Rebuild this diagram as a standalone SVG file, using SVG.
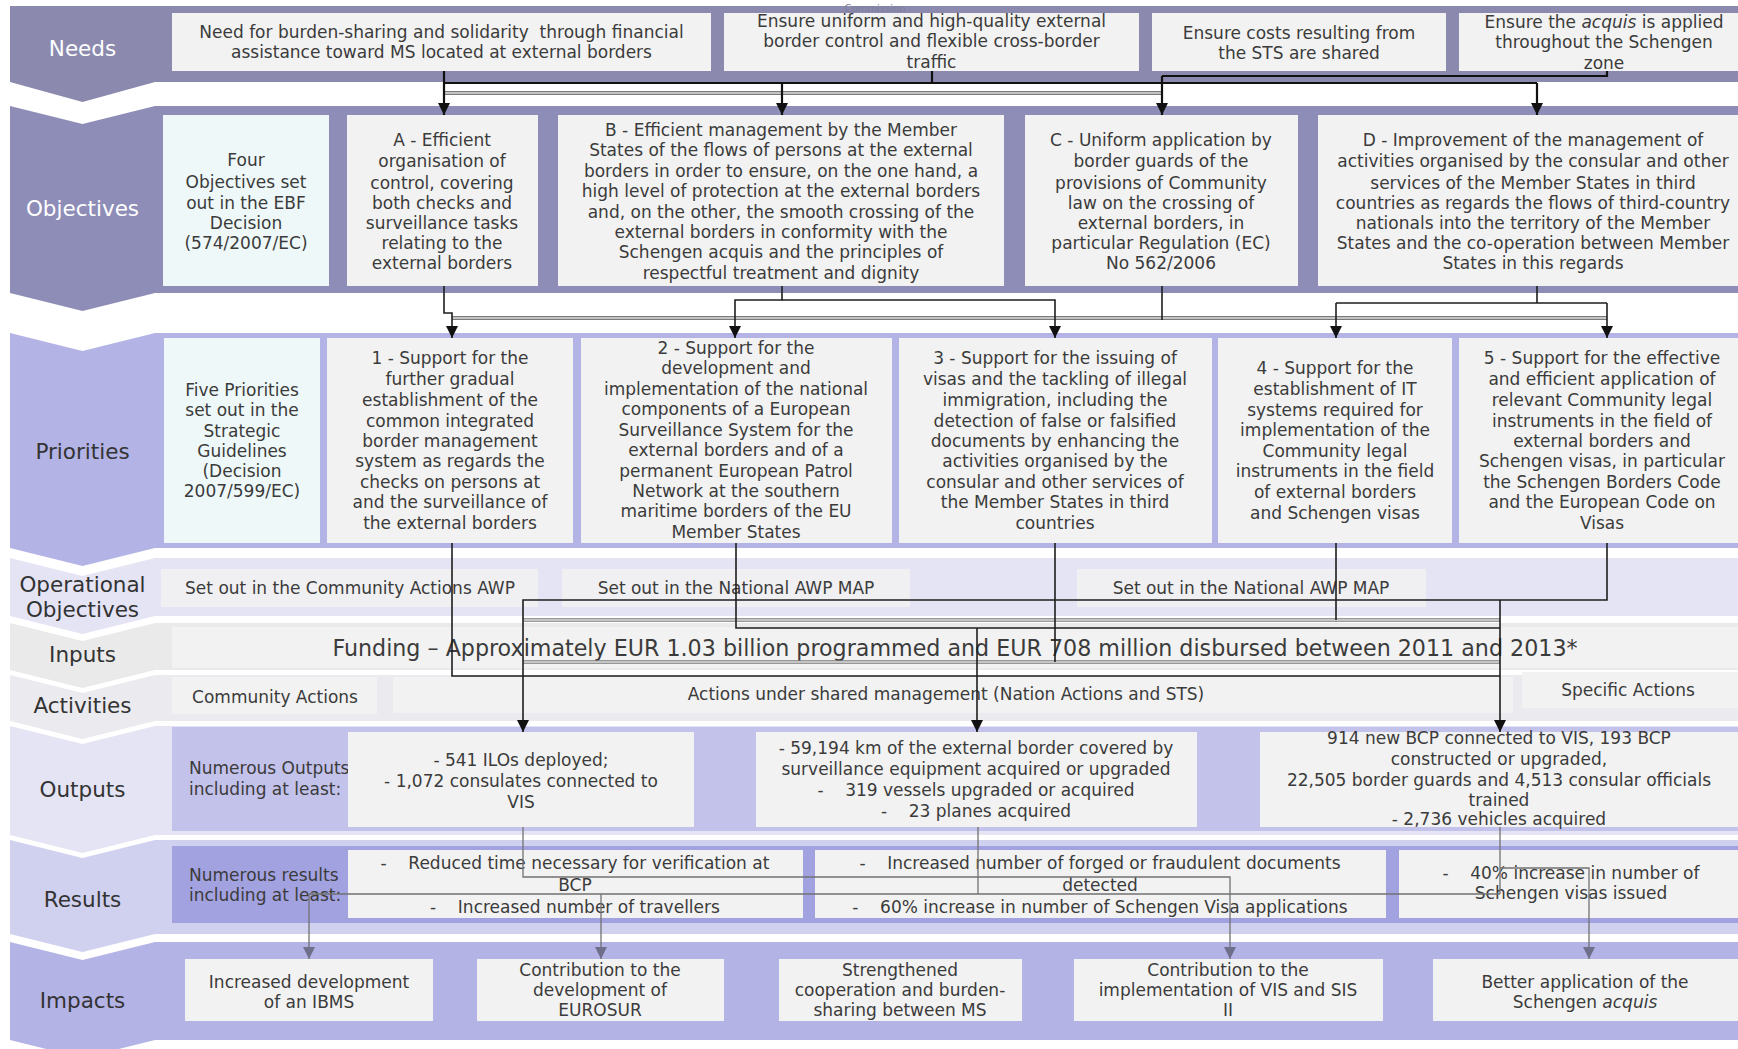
<svg xmlns="http://www.w3.org/2000/svg" width="1738" height="1049" viewBox="0 0 1738 1049">
<defs>
<style>
.box{fill:#f2f2f2}
.cy{fill:#eef8f8}
.t{font-family:"DejaVu Sans",Verdana,sans-serif;font-size:17px;fill:#3b3b3b;text-anchor:middle}
.l{text-anchor:start}
.lbl{font-family:"DejaVu Sans",Verdana,sans-serif;font-size:21.5px;fill:#333;text-anchor:middle}
.wl{fill:#fff}
.ln{fill:none;stroke:#1e1e1e;stroke-width:1.6}
.lnb{fill:none;stroke:#111;stroke-width:2.2}
.gl{fill:none;stroke:#727272;stroke-width:1.3}
.dbo{fill:none;stroke:#7a7a7a;stroke-width:4}
.dbi{fill:none;stroke:#dedede;stroke-width:1.6}
</style>
<marker id="ah" markerUnits="userSpaceOnUse" markerWidth="12" markerHeight="12" viewBox="0 0 10 10" refX="10" refY="5" orient="auto"><path d="M0,0 L10,5 L0,10 z" fill="#111"/></marker>
<marker id="ahg" markerUnits="userSpaceOnUse" markerWidth="12" markerHeight="12" viewBox="0 0 10 10" refX="10" refY="5" orient="auto"><path d="M0,0 L10,5 L0,10 z" fill="#6f6f8c"/></marker>
</defs>
<rect width="1738" height="1049" fill="#fff"/>

<g id="bands">
<polygon points="10,6 1738,6 1738,82 155,82 82.5,102 10,82" fill="#8b8aae"/>
<polygon points="10,106 82.5,124 155,106 1738,106 1738,293 155,293 82.5,311 10,293" fill="#8e8db7"/>
<polygon points="10,333 82.5,351 155,333 1738,333 1738,548 155,548 82.5,566 10,548" fill="#b4b3e6"/>
<polygon points="10,558 82.5,576 155,558 1738,558 1738,616 155,616 82.5,634 10,616" fill="#e4e4f5"/>
<polygon points="10,623 82.5,641 155,623 1738,623 1738,670 155,670 82.5,688 10,670" fill="#eaeaea"/>
<polygon points="10,675 82.5,693 155,675 1738,675 1738,721 155,721 82.5,739 10,721" fill="#eaeaef"/>
<polygon points="10,726 82.5,744 155,726 1738,726 1738,835 155,835 82.5,853 10,835" fill="#e4e4f4"/>
<rect x="172" y="727" width="1566" height="104" fill="#c3c2eb"/>
<polygon points="10,840 82.5,858 155,840 1738,840 1738,934 155,934 82.5,952 10,934" fill="#d0d0ef"/>
<rect x="172" y="846" width="1566" height="77" fill="#a3a2e0"/>
<polygon points="10,942 82.5,960 155,942 1738,942 1738,1040 155,1040 82.5,1058 10,1040" fill="#b4b3e6"/>
<text class="lbl wl" x="82.5" y="55.5">Needs</text>
<text class="lbl wl" x="82.5" y="215.5">Objectives</text>
<text class="lbl" x="82.5" y="458.5">Priorities</text>
<text class="lbl" x="82.5" y="592">Operational</text>
<text class="lbl" x="82.5" y="617">Objectives</text>
<text class="lbl" x="82.5" y="662">Inputs</text>
<text class="lbl" x="82.5" y="713">Activities</text>
<text class="lbl" x="82.5" y="797">Outputs</text>
<text class="lbl" x="82.5" y="907">Results</text>
<text class="lbl" x="82.5" y="1008">Impacts</text>
</g>

<text x="875" y="12" font-family="DejaVu Sans,sans-serif" font-size="10" fill="#7d7d9c" text-anchor="middle">Commission</text>

<g id="need1"><rect class="box" x="172" y="13" width="539" height="58"/>
<text class="t" x="441.5" y="38" xml:space="preserve">Need for burden-sharing and solidarity  through financial</text>
<text class="t" x="441.5" y="58">assistance toward MS located at external borders</text></g>
<g id="need2"><rect class="box" x="724" y="13" width="415" height="58"/>
<text class="t" x="931.5" y="27">Ensure uniform and high-quality external</text>
<text class="t" x="931.5" y="47">border control and flexible cross-border</text>
<text class="t" x="931.5" y="68">traffic</text></g>
<g id="need3"><rect class="box" x="1152" y="13" width="294" height="58"/>
<text class="t" x="1299" y="39">Ensure costs resulting from</text>
<text class="t" x="1299" y="59">the STS are shared</text></g>
<g id="need4"><rect class="box" x="1459" y="13" width="279" height="58"/>
<text class="t" x="1604" y="28">Ensure the <tspan font-style="italic">acquis</tspan> is applied</text>
<text class="t" x="1604" y="48">throughout the Schengen</text>
<text class="t" x="1604" y="69">zone</text></g>

<g id="obj0"><rect class="cy" x="163" y="115" width="166" height="171"/>
<text class="t" x="246" y="166">Four</text>
<text class="t" x="246" y="188">Objectives set</text>
<text class="t" x="246" y="209">out in the EBF</text>
<text class="t" x="246" y="229">Decision</text>
<text class="t" x="246" y="249">(574/2007/EC)</text></g>
<g id="objA"><rect class="box" x="347" y="115" width="191" height="171"/>
<text class="t" x="442" y="146">A - Efficient</text>
<text class="t" x="442" y="167">organisation of</text>
<text class="t" x="442" y="189">control, covering</text>
<text class="t" x="442" y="209">both checks and</text>
<text class="t" x="442" y="229">surveillance tasks</text>
<text class="t" x="442" y="249">relating to the</text>
<text class="t" x="442" y="269">external borders</text></g>
<g id="objB"><rect class="box" x="558" y="115" width="446" height="171"/>
<text class="t" x="781" y="136">B - Efficient management by the Member</text>
<text class="t" x="781" y="156">States of the flows of persons at the external</text>
<text class="t" x="781" y="177">borders in order to ensure, on the one hand, a</text>
<text class="t" x="781" y="197">high level of protection at the external borders</text>
<text class="t" x="781" y="218">and, on the other, the smooth crossing of the</text>
<text class="t" x="781" y="238">external borders in conformity with the</text>
<text class="t" x="781" y="258">Schengen acquis and the principles of</text>
<text class="t" x="781" y="279">respectful treatment and dignity</text></g>
<g id="objC"><rect class="box" x="1025" y="115" width="273" height="171"/>
<text class="t" x="1161" y="146">C - Uniform application by</text>
<text class="t" x="1161" y="167">border guards of the</text>
<text class="t" x="1161" y="189">provisions of Community</text>
<text class="t" x="1161" y="209">law on the crossing of</text>
<text class="t" x="1161" y="229">external borders, in</text>
<text class="t" x="1161" y="249">particular Regulation (EC)</text>
<text class="t" x="1161" y="269">No 562/2006</text></g>
<g id="objD"><rect class="box" x="1318" y="115" width="420" height="171"/>
<text class="t" x="1533" y="146">D - Improvement of the management of</text>
<text class="t" x="1533" y="167">activities organised by the consular and other</text>
<text class="t" x="1533" y="189">services of the Member States in third</text>
<text class="t" x="1533" y="209">countries as regards the flows of third-country</text>
<text class="t" x="1533" y="229">nationals into the territory of the Member</text>
<text class="t" x="1533" y="249">States and the co-operation between Member</text>
<text class="t" x="1533" y="269">States in this regards</text></g>

<g id="pri0"><rect class="cy" x="164" y="338" width="156" height="205"/>
<text class="t" x="242" y="396">Five Priorities</text>
<text class="t" x="242" y="416">set out in the</text>
<text class="t" x="242" y="437">Strategic</text>
<text class="t" x="242" y="457">Guidelines</text>
<text class="t" x="242" y="477">(Decision</text>
<text class="t" x="242" y="497">2007/599/EC)</text></g>
<g id="pri1"><rect class="box" x="327" y="338" width="246" height="205"/>
<text class="t" x="450" y="364">1 - Support for the</text>
<text class="t" x="450" y="385">further gradual</text>
<text class="t" x="450" y="406">establishment of the</text>
<text class="t" x="450" y="427">common integrated</text>
<text class="t" x="450" y="447">border management</text>
<text class="t" x="450" y="467">system as regards the</text>
<text class="t" x="450" y="488">checks on persons at</text>
<text class="t" x="450" y="508">and the surveillance of</text>
<text class="t" x="450" y="529">the external borders</text></g>
<g id="pri2"><rect class="box" x="581" y="338" width="311" height="205"/>
<text class="t" x="736" y="354">2 - Support for the</text>
<text class="t" x="736" y="374">development and</text>
<text class="t" x="736" y="395">implementation of the national</text>
<text class="t" x="736" y="415">components of a European</text>
<text class="t" x="736" y="436">Surveillance System for the</text>
<text class="t" x="736" y="456">external borders and of a</text>
<text class="t" x="736" y="477">permanent European Patrol</text>
<text class="t" x="736" y="497">Network at the southern</text>
<text class="t" x="736" y="517">maritime borders of the EU</text>
<text class="t" x="736" y="538">Member States</text></g>
<g id="pri3"><rect class="box" x="899" y="338" width="313" height="205"/>
<text class="t" x="1055" y="364">3 - Support for the issuing of</text>
<text class="t" x="1055" y="385">visas and the tackling of illegal</text>
<text class="t" x="1055" y="406">immigration, including the</text>
<text class="t" x="1055" y="427">detection of false or falsified</text>
<text class="t" x="1055" y="447">documents by enhancing the</text>
<text class="t" x="1055" y="467">activities organised by the</text>
<text class="t" x="1055" y="488">consular and other services of</text>
<text class="t" x="1055" y="508">the Member States in third</text>
<text class="t" x="1055" y="529">countries</text></g>
<g id="pri4"><rect class="box" x="1218" y="338" width="234" height="205"/>
<text class="t" x="1335" y="374">4 - Support for the</text>
<text class="t" x="1335" y="395">establishment of IT</text>
<text class="t" x="1335" y="416">systems required for</text>
<text class="t" x="1335" y="436">implementation of the</text>
<text class="t" x="1335" y="457">Community legal</text>
<text class="t" x="1335" y="477">instruments in the field</text>
<text class="t" x="1335" y="498">of external borders</text>
<text class="t" x="1335" y="519">and Schengen visas</text></g>
<g id="pri5"><rect class="box" x="1459" y="338" width="279" height="205"/>
<text class="t" x="1602" y="364">5 - Support for the effective</text>
<text class="t" x="1602" y="385">and efficient application of</text>
<text class="t" x="1602" y="406">relevant Community legal</text>
<text class="t" x="1602" y="427">instruments in the field of</text>
<text class="t" x="1602" y="447">external borders and</text>
<text class="t" x="1602" y="467">Schengen visas, in particular</text>
<text class="t" x="1602" y="488">the Schengen Borders Code</text>
<text class="t" x="1602" y="508">and the European Code on</text>
<text class="t" x="1602" y="529">Visas</text></g>

<g id="op1"><rect x="161" y="569" width="377" height="38" fill="#f0f0f2"/>
<text class="t" x="350" y="594">Set out in the Community Actions AWP</text></g>
<g id="op2"><rect x="562" y="569" width="348" height="38" fill="#f0f0f2"/>
<text class="t" x="736" y="594">Set out in the National AWP MAP</text></g>
<g id="op3"><rect x="1077" y="569" width="349" height="38" fill="#f0f0f2"/>
<text class="t" x="1251" y="594">Set out in the National AWP MAP</text></g>

<g id="inputs"><rect class="box" x="172" y="627" width="1566" height="41"/>
<text class="t" x="955" y="656" style="font-size:22.2px">Funding – Approximately EUR 1.03 billion programmed and EUR 708 million disbursed between 2011 and 2013*</text></g>

<g id="act1"><rect class="box" x="172" y="677" width="205" height="37"/>
<text class="t" x="275" y="703">Community Actions</text></g>
<g id="act2"><rect class="box" x="393" y="677" width="1120" height="36"/>
<text class="t" x="946" y="700">Actions under shared management (Nation Actions and STS)</text></g>
<g id="act3"><rect class="box" x="1522" y="672" width="216" height="36"/>
<text class="t" x="1628" y="696">Specific Actions</text></g>

<g id="out0"><text class="t l" x="189" y="774">Numerous Outputs</text>
<text class="t l" x="189" y="795">including at least:</text></g>
<g id="out1"><rect class="box" x="348" y="732" width="346" height="95"/>
<text class="t" x="521" y="766">- 541 ILOs deployed;</text>
<text class="t" x="521" y="787">- 1,072 consulates connected to</text>
<text class="t" x="521" y="808">VIS</text></g>
<g id="out2"><rect class="box" x="756" y="732" width="441" height="95"/>
<text class="t" x="976" y="754">- 59,194 km of the external border covered by</text>
<text class="t" x="976" y="775">surveillance equipment acquired or upgraded</text>
<text class="t" x="976" y="796" xml:space="preserve">-    319 vessels upgraded or acquired</text>
<text class="t" x="976" y="817" xml:space="preserve">-    23 planes acquired</text></g>
<g id="out3"><rect class="box" x="1260" y="732" width="478" height="95"/>
<text class="t" x="1499" y="744">914 new BCP connected to VIS, 193 BCP</text>
<text class="t" x="1499" y="765">constructed or upgraded,</text>
<text class="t" x="1499" y="786">22,505 border guards and 4,513 consular officials</text>
<text class="t" x="1499" y="806">trained</text>
<text class="t" x="1499" y="825">- 2,736 vehicles acquired</text></g>

<g id="res0"><text class="t l" x="189" y="881">Numerous results</text>
<text class="t l" x="189" y="901">including at least:</text></g>
<g id="res1"><rect class="box" x="348" y="850" width="455" height="68"/>
<text class="t" x="575" y="869" xml:space="preserve">-    Reduced time necessary for verification at</text>
<text class="t" x="575" y="891">BCP</text>
<text class="t" x="575" y="913" xml:space="preserve">-    Increased number of travellers</text></g>
<g id="res2"><rect class="box" x="815" y="850" width="571" height="68"/>
<text class="t" x="1100" y="869" xml:space="preserve">-    Increased number of forged or fraudulent documents</text>
<text class="t" x="1100" y="891">detected</text>
<text class="t" x="1100" y="913" xml:space="preserve">-    60% increase in number of Schengen Visa applications</text></g>
<g id="res3"><rect class="box" x="1399" y="850" width="339" height="68"/>
<text class="t" x="1571" y="879" xml:space="preserve">-    40% increase in number of</text>
<text class="t" x="1571" y="899">Schengen visas issued</text></g>

<g id="imp1"><rect class="box" x="185" y="959" width="248" height="62"/>
<text class="t" x="309" y="988">Increased development</text>
<text class="t" x="309" y="1008">of an IBMS</text></g>
<g id="imp2"><rect class="box" x="477" y="959" width="247" height="62"/>
<text class="t" x="600" y="976">Contribution to the</text>
<text class="t" x="600" y="996">development of</text>
<text class="t" x="600" y="1016">EUROSUR</text></g>
<g id="imp3"><rect class="box" x="779" y="959" width="243" height="62"/>
<text class="t" x="900" y="976">Strengthened</text>
<text class="t" x="900" y="996">cooperation and burden-</text>
<text class="t" x="900" y="1016">sharing between MS</text></g>
<g id="imp4"><rect class="box" x="1074" y="959" width="309" height="62"/>
<text class="t" x="1228" y="976">Contribution to the</text>
<text class="t" x="1228" y="996">implementation of VIS and SIS</text>
<text class="t" x="1228" y="1016">II</text></g>
<g id="imp5"><rect class="box" x="1433" y="959" width="305" height="62"/>
<text class="t" x="1585" y="988">Better application of the</text>
<text class="t" x="1585" y="1008">Schengen <tspan font-style="italic">acquis</tspan></text></g>

<g id="connectors">
<path class="dbo" d="M444,93 H1162"/><path class="dbi" d="M444,93 H1162"/>
<path class="lnb" d="M932,71 V83 M1607,71 V76 H1162 M444,83 H1537"/>
<path class="lnb" d="M444,71 V115" marker-end="url(#ah)"/>
<path class="lnb" d="M782,83 V115" marker-end="url(#ah)"/>
<path class="lnb" d="M1162,76 V115" marker-end="url(#ah)"/>
<path class="lnb" d="M1537,83 V115" marker-end="url(#ah)"/>

<path class="dbo" d="M452,318 H1607"/><path class="dbi" d="M452,318 H1607"/>
<path class="ln" d="M444,286 V313 H452 V338" marker-end="url(#ah)"/>
<path class="ln" d="M782,286 V300 H735 V338" marker-end="url(#ah)"/>
<path class="ln" d="M782,300 H1055 V338" marker-end="url(#ah)"/>
<path class="ln" d="M1162,286 V320 M1537,286 V303 M1336,303 H1607"/>
<path class="ln" d="M1336,303 V338" marker-end="url(#ah)"/>
<path class="ln" d="M1607,303 V338" marker-end="url(#ah)"/>

<path class="dbo" d="M523,620 H1500 M523,662 H1500" style="stroke-width:3.5"/><path class="dbi" d="M523,620 H1500 M523,662 H1500" style="stroke-width:1.3"/>
<path class="ln" d="M452,543 V676 H1500 M736,543 V628 H1500 M1055,543 V662 M1336,543 V620"/>
<path class="ln" d="M1607,543 V600 H523 V732" marker-end="url(#ah)"/>
<path class="ln" d="M1500,600 V732" marker-end="url(#ah)"/>
<path class="ln" d="M977,628 V732" marker-end="url(#ah)"/>

<path class="gl" d="M978,827 V894 M309,894 H1500 M1500,827 V894"/>
<path class="gl" d="M523,827 V877 H1230 V959" marker-end="url(#ahg)"/>
<path class="gl" d="M309,894 V959" marker-end="url(#ahg)"/>
<path class="gl" d="M601,894 V959" marker-end="url(#ahg)"/>
<path class="gl" d="M1500,868 H1589 V959" marker-end="url(#ahg)"/>
</g>
</svg>
